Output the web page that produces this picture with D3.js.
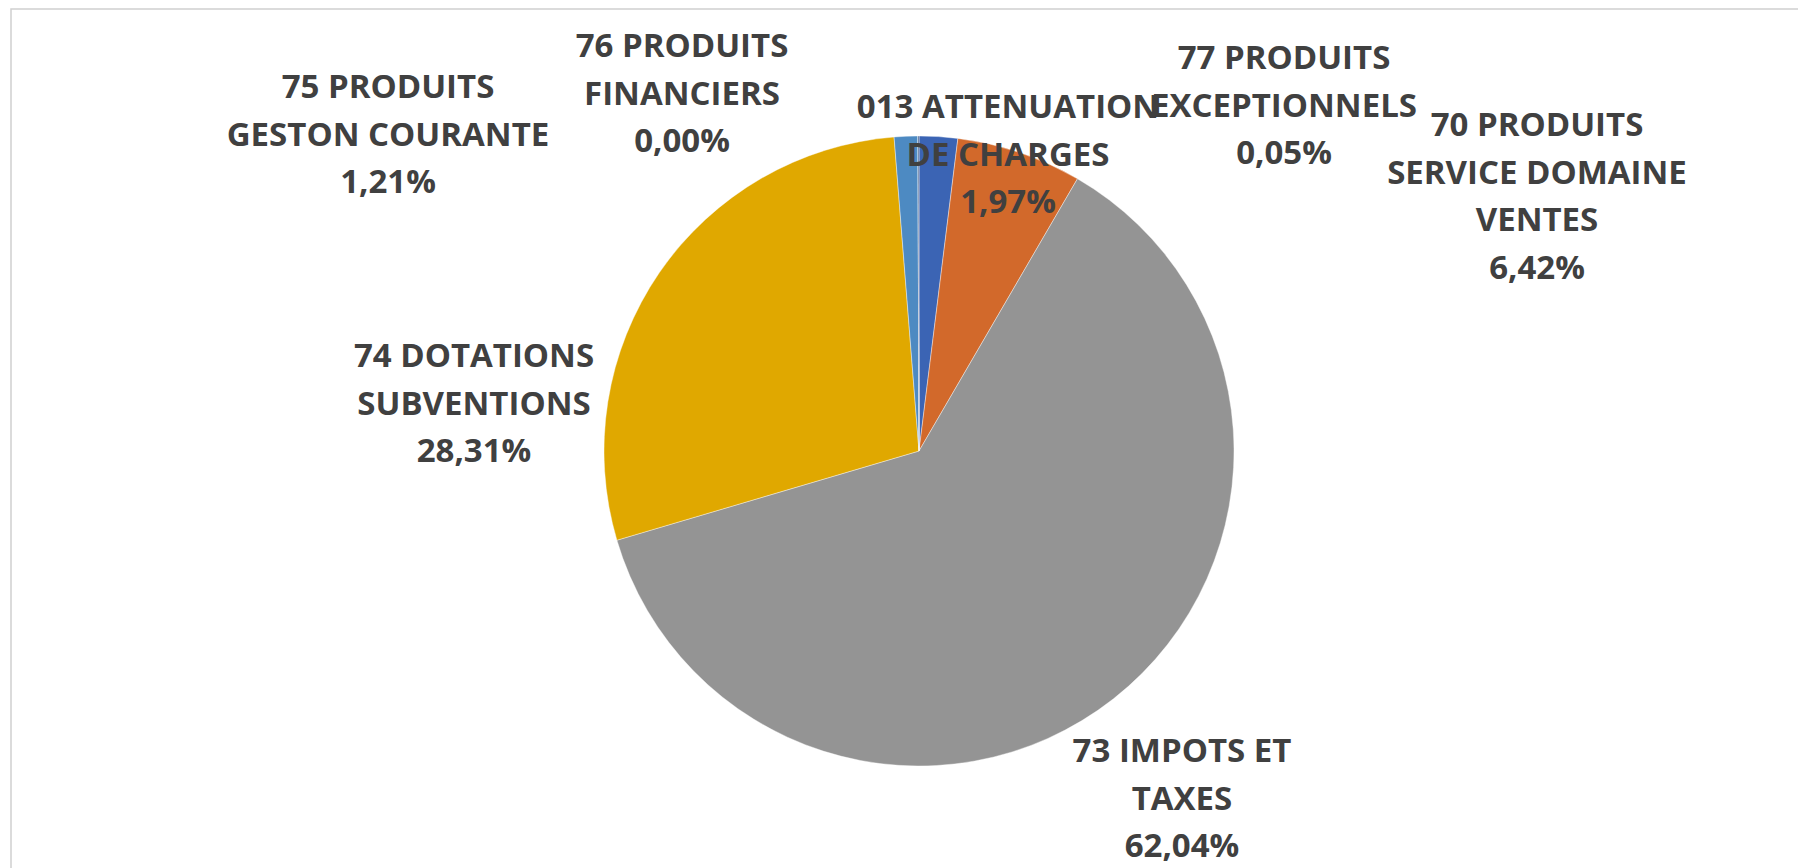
<!DOCTYPE html>
<html>
<head>
<meta charset="utf-8">
<script src="https://cdn.jsdelivr.net/npm/d3@7"></script>
<style>
    body { margin: 0; background: #fff; }
    svg { display: block; }
</style>
</head>
<body>
<div id="draw_here"></div>
<script type="text/javascript">
    // Data (order = Excel order, first slice starts at 12 o'clock)
    categories = ["013 ATTENUATION DE CHARGES", "70 PRODUITS SERVICE DOMAINE VENTES", "73 IMPOTS ET TAXES",
                  "74 DOTATIONS SUBVENTIONS", "75 PRODUITS GESTON COURANTE", "76 PRODUITS FINANCIERS",
                  "77 PRODUITS EXCEPTIONNELS"]
    shares = [1.97, 6.42, 62.04, 28.31, 1.21, 0.00, 0.05]
    label_lines = [
        ["013 ATTENUATION", "DE CHARGES"],
        ["70 PRODUITS", "SERVICE DOMAINE", "VENTES"],
        ["73 IMPOTS ET", "TAXES"],
        ["74 DOTATIONS", "SUBVENTIONS"],
        ["75 PRODUITS", "GESTON COURANTE"],
        ["76 PRODUITS", "FINANCIERS"],
        ["77 PRODUITS", "EXCEPTIONNELS"]
    ]
    colors = ["#3b64b4", "#d2692b", "#949494", "#e0a800", "#4d8ac2", "#6a9f3f", "#264478"]

    // Layout
    canvas = ({width: 1798, height: 868})
    center = ({x: 919, y: 451})
    radius = 315
    font_size = 33
    line_h = 47.5
    // label block anchor: centre x and baseline of the first line (Excel "best fit" spots)
    label_pos = [
        {x: 1008, y: 118}, {x: 1537, y: 136}, {x: 1182, y: 762}, {x: 474, y: 367},
        {x: 388, y: 98}, {x: 682, y: 57}, {x: 1284, y: 69}
    ]

    fmt = v => v.toFixed(2).replace(".", ",") + "%"

    var svg = d3.select("div#draw_here").append("svg")
        .attr("width", canvas.width)
        .attr("height", canvas.height)

    // chart frame
    svg.append("rect")
        .attr("x", 11).attr("y", 9)
        .attr("width", canvas.width + 20).attr("height", canvas.height + 20)
        .attr("fill", "#fff")
        .attr("stroke", "#cfcfcf")
        .attr("stroke-width", 1.5)

    pie = d3.pie().sort(null).value(d => d)(shares)
    arc = d3.arc().innerRadius(0).outerRadius(radius)

    g = svg.append("g").attr("transform", `translate(${center.x},${center.y})`)
    g.selectAll("path")
        .data(pie)
        .join("path")
        .attr("fill", (d, i) => colors[i])
        .attr("stroke", "#fff")
        .attr("stroke-width", 0.4)
        .attr("d", arc)

    // data labels
    labels = svg.append("g")
        .attr("font-family", "'Open Sans', sans-serif")
        .attr("font-weight", "bold")
        .attr("font-size", font_size)
        .attr("fill", "#404040")
        .attr("text-anchor", "middle")

    categories.forEach(function(c, i) {
        var lines = label_lines[i].concat([fmt(shares[i])])
        var t = labels.append("text")
        lines.forEach(function(l, j) {
            t.append("tspan")
                .attr("x", label_pos[i].x)
                .attr("y", label_pos[i].y + j * line_h)
                .text(l)
        })
    })
</script>
</body>
</html>
